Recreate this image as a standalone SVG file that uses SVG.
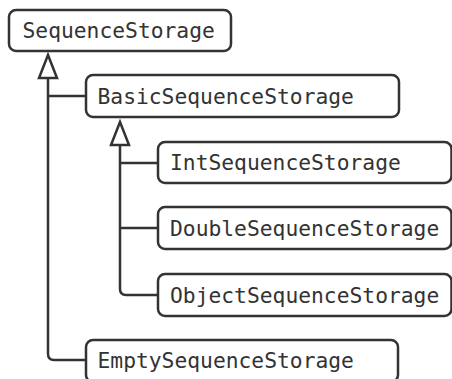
<svg xmlns="http://www.w3.org/2000/svg" width="452" height="379" viewBox="0 0 452 379">
  <style>
    .box { fill: #ffffff; stroke: #333333; stroke-width: 2.5; }
    .label { font-family: "DejaVu Sans Mono", "Liberation Mono", monospace; font-size: 21.3px; fill: #333333; }
    .edge { fill: none; stroke: #333333; stroke-width: 2.5; stroke-linejoin: round; }
    .head { fill: #ffffff; stroke: #333333; stroke-width: 2.5; stroke-linejoin: miter; }
  </style>
  <rect width="452" height="379" fill="#ffffff"/>

  <!-- inheritance connectors -->
  <g id="connectors">
    <path class="edge" d="M48 78 V354 Q48 360 54 360 H86 M48 96 H86"/>
    <polygon class="head" points="48,55 39,78 57,78"/>
    <path class="edge" d="M120 145 V289 Q120 295 126 295 H158 M120 163 H158 M120 228 H158"/>
    <polygon class="head" points="120,122 111,145 129,145"/>
  </g>

  <g id="SequenceStorage">
    <rect class="box" x="9" y="10" width="222" height="41" rx="7"/>
    <text class="label" x="22.5" y="38">SequenceStorage</text>
  </g>
  <g id="BasicSequenceStorage">
    <rect class="box" x="86" y="75" width="313" height="42" rx="7"/>
    <text class="label" x="97.5" y="103.5">BasicSequenceStorage</text>
  </g>
  <g id="IntSequenceStorage">
    <rect class="box" x="158" y="142" width="293.5" height="41" rx="7"/>
    <text class="label" x="170" y="170">IntSequenceStorage</text>
  </g>
  <g id="DoubleSequenceStorage">
    <rect class="box" x="158" y="207" width="293.5" height="42" rx="7"/>
    <text class="label" x="170" y="235.5">DoubleSequenceStorage</text>
  </g>
  <g id="ObjectSequenceStorage">
    <rect class="box" x="158" y="274" width="293.5" height="42" rx="7"/>
    <text class="label" x="170" y="302.5">ObjectSequenceStorage</text>
  </g>
  <g id="EmptySequenceStorage">
    <rect class="box" x="86" y="340" width="312" height="42" rx="7"/>
    <text class="label" x="97.5" y="368">EmptySequenceStorage</text>
  </g>
</svg>
